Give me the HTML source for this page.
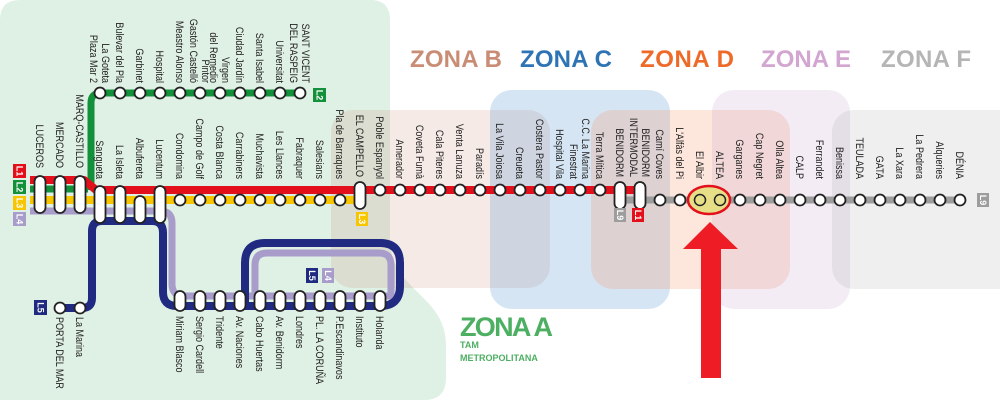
<!DOCTYPE html>
<html><head><meta charset="utf-8"><style>
html,body{margin:0;padding:0;background:#fff;}
svg{display:block;font-family:"Liberation Sans",sans-serif;}
.a{font-size:11px;fill:#222;text-anchor:end;}
.b{font-size:11px;fill:#222;text-anchor:start;}
.z{font-size:24px;font-weight:bold;}
.bd{font-size:9px;fill:#fff;font-weight:bold;text-anchor:middle;}
</style></head><body>
<svg width="1000" height="400" viewBox="0 0 1000 400" xmlns="http://www.w3.org/2000/svg">
<!-- zones -->
<path d="M0,20 Q0,0 20,0 H370 Q390,0 390,20 V240 C390,290 446,295 446,345 V378 Q446,400 424,400 H0 Z" fill="#dff0e4"/>
<rect x="331" y="110" width="219" height="178" rx="22" fill="rgb(200,140,110)" fill-opacity="0.18"/>
<rect x="490" y="90" width="180" height="219" rx="22" fill="rgb(90,150,210)" fill-opacity="0.25"/>
<rect x="591" y="110" width="199" height="179" rx="22" fill="rgb(245,140,90)" fill-opacity="0.22"/>
<rect x="712" y="90" width="138" height="219" rx="22" fill="rgb(190,150,200)" fill-opacity="0.18"/>
<rect x="832" y="110" width="190" height="179" rx="22" fill="rgb(150,150,150)" fill-opacity="0.15"/>
<text x="410" y="67" class="z" fill="#c98d75" textLength="92">ZONA B</text>
<text x="520" y="67" class="z" fill="#2e74b5" textLength="92">ZONA C</text>
<text x="640" y="67" class="z" fill="#ee6a28" textLength="94">ZONA D</text>
<text x="761" y="67" class="z" fill="#d2a6d0" textLength="90">ZONA E</text>
<text x="881" y="67" class="z" fill="#b5b5b5" textLength="90">ZONA F</text>
<text x="460" y="336" font-size="27" font-weight="bold" fill="#4daf62" textLength="93">ZONA A</text>
<text x="460" y="348" font-size="9" font-weight="bold" fill="#4daf62">TAM</text>
<text x="460" y="361" font-size="9" font-weight="bold" fill="#4daf62">METROPOLITANA</text>

<!-- lines -->
<g fill="none" stroke-linejoin="round">
<path d="M30,211 H160 Q172,211 172,223 V284 Q172,296 184,296 H391 V265 Q391,253 379,253 H267 Q255,253 255,265 V296" stroke="#a89ccb" stroke-width="7"/>
<path d="M100,221 H152 Q163,221 163,233 V292 Q163,306 177,306 H380 Q400,306 400,286 V263 Q400,243 380,243 H265 Q245,243 245,263 V306" stroke="#1f2a80" stroke-width="8"/>
<path d="M60,308 H82 Q92,308 92,298 V231 Q92,221 102,221 H110" stroke="#1f2a80" stroke-width="8"/>
<path d="M30,200 H360" stroke="#f7c600" stroke-width="8"/>
<path d="M30,189 H88 M91,190 V103 Q91,93 101,93 H300" stroke="#12913a" stroke-width="7"/>
<path d="M30,180 H84 L96,190 H640" stroke="#e3101c" stroke-width="8"/>
<path d="M620,200 H962" stroke="#9d9d9d" stroke-width="7"/>
</g>
<!-- highlight -->
<ellipse cx="709" cy="200" rx="21" ry="14" fill="#e6df88" stroke="#e3101c" stroke-width="2.5"/>

<!-- stations circles -->
<g fill="#fff" stroke="#222" stroke-width="1.8">
<circle cx="100" cy="93" r="5.5"/><circle cx="120" cy="93" r="5.5"/><circle cx="140" cy="93" r="5.5"/><circle cx="160" cy="93" r="5.5"/><circle cx="180" cy="93" r="5.5"/><circle cx="200" cy="93" r="5.5"/><circle cx="220" cy="93" r="5.5"/><circle cx="240" cy="93" r="5.5"/><circle cx="260" cy="93" r="5.5"/><circle cx="280" cy="93" r="5.5"/><circle cx="300" cy="93" r="5.5"/>
<circle cx="180" cy="200" r="5.5"/><circle cx="200" cy="200" r="5.5"/><circle cx="220" cy="200" r="5.5"/><circle cx="240" cy="200" r="5.5"/><circle cx="260" cy="200" r="5.5"/><circle cx="280" cy="200" r="5.5"/><circle cx="300" cy="200" r="5.5"/><circle cx="320" cy="200" r="5.5"/><circle cx="340" cy="200" r="5.5"/>
<circle cx="380" cy="190" r="5.5"/><circle cx="400" cy="190" r="5.5"/><circle cx="420" cy="190" r="5.5"/><circle cx="440" cy="190" r="5.5"/><circle cx="460" cy="190" r="5.5"/><circle cx="480" cy="190" r="5.5"/><circle cx="500" cy="190" r="5.5"/><circle cx="520" cy="190" r="5.5"/><circle cx="540" cy="190" r="5.5"/><circle cx="560" cy="190" r="5.5"/><circle cx="580" cy="190" r="5.5"/><circle cx="600" cy="190" r="5.5"/>
<circle cx="660" cy="200" r="5.5"/><circle cx="680" cy="200" r="5.5"/><circle cx="740" cy="200" r="5.5"/><circle cx="760" cy="200" r="5.5"/><circle cx="780" cy="200" r="5.5"/><circle cx="800" cy="200" r="5.5"/><circle cx="820" cy="200" r="5.5"/><circle cx="840" cy="200" r="5.5"/><circle cx="860" cy="200" r="5.5"/><circle cx="880" cy="200" r="5.5"/><circle cx="900" cy="200" r="5.5"/><circle cx="920" cy="200" r="5.5"/><circle cx="940" cy="200" r="5.5"/><circle cx="960" cy="200" r="5.5"/>
<circle cx="60" cy="308" r="5.5"/><circle cx="80" cy="308" r="5.5"/>
</g>
<g fill="#e6df88" stroke="#222" stroke-width="1.5"><circle cx="700" cy="200" r="5.5"/><circle cx="720" cy="200" r="5.5"/></g>
<!-- capsules -->
<g fill="#fff" stroke="#222" stroke-width="1.8">
<rect x="34.5" y="176" width="11" height="37" rx="5.5"/><rect x="54.5" y="176" width="11" height="37" rx="5.5"/><rect x="74.5" y="176" width="11" height="37" rx="5.5"/>
<rect x="94.5" y="186" width="11" height="37" rx="5.5"/><rect x="114.5" y="186" width="11" height="37" rx="5.5"/><rect x="134.5" y="196" width="11" height="27" rx="5.5"/><rect x="154.5" y="186" width="11" height="37" rx="5.5"/>
<rect x="354.5" y="182" width="11" height="27" rx="5.5"/><rect x="614.5" y="182" width="11" height="27" rx="5.5"/><rect x="634.5" y="182" width="11" height="27" rx="5.5"/>
<rect x="174.5" y="291" width="11" height="20" rx="5.5"/><rect x="194.5" y="291" width="11" height="20" rx="5.5"/><rect x="214.5" y="291" width="11" height="20" rx="5.5"/><rect x="234.5" y="291" width="11" height="20" rx="5.5"/><rect x="254.5" y="291" width="11" height="20" rx="5.5"/><rect x="274.5" y="291" width="11" height="20" rx="5.5"/><rect x="294.5" y="291" width="11" height="20" rx="5.5"/><rect x="314.5" y="291" width="11" height="20" rx="5.5"/><rect x="334.5" y="291" width="11" height="20" rx="5.5"/><rect x="354.5" y="291" width="11" height="20" rx="5.5"/><rect x="374.5" y="291" width="11" height="20" rx="5.5"/>
</g>
<!-- badges -->
<g>
<rect x="13" y="164" width="13" height="14" fill="#e3101c"/><rect x="13" y="180" width="13" height="14" fill="#12913a"/><rect x="13" y="196" width="13" height="14" fill="#f7c600"/><rect x="13" y="212" width="13" height="14" fill="#a89ccb"/>
<rect x="313" y="88" width="13" height="14" fill="#12913a"/>
<rect x="356" y="212" width="12" height="14" fill="#f7c600"/>
<rect x="614" y="208" width="12" height="14" fill="#9d9d9d"/><rect x="632" y="208" width="12" height="14" fill="#e3101c"/>
<rect x="977" y="193" width="12" height="14" fill="#9d9d9d"/>
<rect x="34" y="300" width="13" height="15" fill="#1f2a80"/>
<rect x="306" y="268" width="12" height="15" fill="#1f2a80"/><rect x="322" y="268" width="12" height="15" fill="#a89ccb"/>
</g>
<g class="bd">
<text transform="translate(19.5,171) rotate(90)" dy="3">L1</text><text transform="translate(19.5,187) rotate(90)" dy="3">L2</text><text transform="translate(19.5,203) rotate(90)" dy="3">L3</text><text transform="translate(19.5,219) rotate(90)" dy="3">L4</text>
<text transform="translate(319.5,95) rotate(90)" dy="3">L2</text><text transform="translate(362,219) rotate(90)" dy="3">L3</text>
<text transform="translate(620,215) rotate(90)" dy="3">L9</text><text transform="translate(638,215) rotate(90)" dy="3">L1</text>
<text transform="translate(983,200) rotate(90)" dy="3">L9</text><text transform="translate(40.5,307.5) rotate(90)" dy="3">L5</text>
<text transform="translate(312,275.5) rotate(90)" dy="3">L5</text><text transform="translate(328,275.5) rotate(90)" dy="3">L4</text>
</g>
<!-- arrow -->
<polygon points="710,222 738,249 721,249 721,378 701,378 701,249 683,249" fill="#ee1c24"/>

<!-- top labels -->
<g class="a">
<text transform="translate(100,83) rotate(90) scale(0.82,1)"><tspan x="0" dy="-0.2em">La Goteta</tspan><tspan x="0" dy="1.1em">Plaza Mar 2</tspan></text>
<text transform="translate(120,83) rotate(90) scale(0.82,1)" dy=".35em">Bulevar del Pla</text>
<text transform="translate(140,83) rotate(90) scale(0.82,1)" dy=".35em">Garbinet</text>
<text transform="translate(160,83) rotate(90) scale(0.82,1)" dy=".35em">Hospital</text>
<text transform="translate(180,83) rotate(90) scale(0.82,1)" dy=".35em">Meastro Alonso</text>
<text transform="translate(200,83) rotate(90) scale(0.82,1)"><tspan x="0" dy="-0.2em">Pintor</tspan><tspan x="0" dy="1.1em">Gastón Castelló</tspan></text>
<text transform="translate(220,83) rotate(90) scale(0.82,1)"><tspan x="0" dy="-0.2em">Virgen</tspan><tspan x="0" dy="1.1em">del Remedio</tspan></text>
<text transform="translate(240,83) rotate(90) scale(0.82,1)" dy=".35em">Ciudad Jardín</text>
<text transform="translate(260,83) rotate(90) scale(0.82,1)" dy=".35em">Santa Isabel</text>
<text transform="translate(280,83) rotate(90) scale(0.82,1)" dy=".35em">Universitat</text>
<text transform="translate(300,83) rotate(90) scale(0.82,1)"><tspan x="0" dy="-0.2em">SANT VICENT</tspan><tspan x="0" dy="1.1em">DEL RASPEIG</tspan></text>
<text transform="translate(40,168) rotate(90) scale(0.82,1)" dy=".35em">LUCEROS</text>
<text transform="translate(60,168) rotate(90) scale(0.82,1)" dy=".35em">MERCADO</text>
<text transform="translate(80,168) rotate(90) scale(0.82,1)" dy=".35em">MARQ-CASTILLO</text>
<text transform="translate(100,179) rotate(90) scale(0.82,1)" dy=".35em">Sangueta</text>
<text transform="translate(120,179) rotate(90) scale(0.82,1)" dy=".35em">La Isleta</text>
<text transform="translate(140,179) rotate(90) scale(0.82,1)" dy=".35em">Albufereta</text>
<text transform="translate(160,179) rotate(90) scale(0.82,1)" dy=".35em">Lucentum</text>
<text transform="translate(180,179) rotate(90) scale(0.82,1)" dy=".35em">Condomina</text>
<text transform="translate(200,179) rotate(90) scale(0.82,1)" dy=".35em">Campo de Golf</text>
<text transform="translate(220,179) rotate(90) scale(0.82,1)" dy=".35em">Costa Blanca</text>
<text transform="translate(240,179) rotate(90) scale(0.82,1)" dy=".35em">Carrabiners</text>
<text transform="translate(260,179) rotate(90) scale(0.82,1)" dy=".35em">Muchavista</text>
<text transform="translate(280,179) rotate(90) scale(0.82,1)" dy=".35em">Les Llances</text>
<text transform="translate(300,179) rotate(90) scale(0.82,1)" dy=".35em">Fabraquer</text>
<text transform="translate(320,179) rotate(90) scale(0.82,1)" dy=".35em">Salesians</text>
<text transform="translate(340,179) rotate(90) scale(0.82,1)" dy=".35em">Pla de Barraques</text>
<text transform="translate(360,177) rotate(90) scale(0.82,1)" dy=".35em">EL CAMPELLO</text>
<text transform="translate(380,179) rotate(90) scale(0.82,1)" dy=".35em">Poble Espanyol</text>
<text transform="translate(400,179) rotate(90) scale(0.82,1)" dy=".35em">Amerador</text>
<text transform="translate(420,179) rotate(90) scale(0.82,1)" dy=".35em">Coveta Fumà</text>
<text transform="translate(440,179) rotate(90) scale(0.82,1)" dy=".35em">Cala Piteres</text>
<text transform="translate(460,179) rotate(90) scale(0.82,1)" dy=".35em">Venta Lanuza</text>
<text transform="translate(480,179) rotate(90) scale(0.82,1)" dy=".35em">Paradís</text>
<text transform="translate(500,179) rotate(90) scale(0.82,1)" dy=".35em">La Vila Joiosa</text>
<text transform="translate(520,179) rotate(90) scale(0.82,1)" dy=".35em">Creueta</text>
<text transform="translate(540,179) rotate(90) scale(0.82,1)" dy=".35em">Costera Pastor</text>
<text transform="translate(560,179) rotate(90) scale(0.82,1)" dy=".35em">Hospital Vila</text>
<text transform="translate(580,179) rotate(90) scale(0.82,1)"><tspan x="0" dy="-0.2em">C.C. La Marina</tspan><tspan x="0" dy="1.1em">Finestrat</tspan></text>
<text transform="translate(600,179) rotate(90) scale(0.82,1)" dy=".35em">Terra Mítica</text>
<text transform="translate(620,177) rotate(90) scale(0.82,1)" dy=".35em">BENIDORM</text>
<text transform="translate(640,177) rotate(90) scale(0.82,1)"><tspan x="0" dy="-0.2em">BENIDORM</tspan><tspan x="0" dy="1.1em">INTERMODAL</tspan></text>
<text transform="translate(660,179) rotate(90) scale(0.82,1)" dy=".35em">Camí Coves</text>
<text transform="translate(680,179) rotate(90) scale(0.82,1)" dy=".35em">L'Alfàs del Pi</text>
<text transform="translate(700,179) rotate(90) scale(0.82,1)" dy=".35em">El Albir</text>
<text transform="translate(720,179) rotate(90) scale(0.82,1)" dy=".35em">ALTEA</text>
<text transform="translate(740,179) rotate(90) scale(0.82,1)" dy=".35em">Garganes</text>
<text transform="translate(760,179) rotate(90) scale(0.82,1)" dy=".35em">Cap Negret</text>
<text transform="translate(780,179) rotate(90) scale(0.82,1)" dy=".35em">Olla Altea</text>
<text transform="translate(800,179) rotate(90) scale(0.82,1)" dy=".35em">CALP</text>
<text transform="translate(820,179) rotate(90) scale(0.82,1)" dy=".35em">Ferrandet</text>
<text transform="translate(840,179) rotate(90) scale(0.82,1)" dy=".35em">Benissa</text>
<text transform="translate(860,179) rotate(90) scale(0.82,1)" dy=".35em">TEULADA</text>
<text transform="translate(880,179) rotate(90) scale(0.82,1)" dy=".35em">GATA</text>
<text transform="translate(900,179) rotate(90) scale(0.82,1)" dy=".35em">La Xara</text>
<text transform="translate(920,179) rotate(90) scale(0.82,1)" dy=".35em">La Pedrera</text>
<text transform="translate(940,179) rotate(90) scale(0.82,1)" dy=".35em">Alqueries</text>
<text transform="translate(960,179) rotate(90) scale(0.82,1)" dy=".35em">DÉNIA</text>
</g>
<!-- bottom labels -->
<g class="b">
<text transform="translate(60,317) rotate(90) scale(0.82,1)" dy=".35em">PORTA DEL MAR</text>
<text transform="translate(80,317) rotate(90) scale(0.82,1)" dy=".35em">La Marina</text>
<text transform="translate(180,316) rotate(90) scale(0.82,1)" dy=".35em">Miriam Blasco</text>
<text transform="translate(200,316) rotate(90) scale(0.82,1)" dy=".35em">Sergio Cardell</text>
<text transform="translate(220,316) rotate(90) scale(0.82,1)" dy=".35em">Tridente</text>
<text transform="translate(240,316) rotate(90) scale(0.82,1)" dy=".35em">Av. Naciones</text>
<text transform="translate(260,316) rotate(90) scale(0.82,1)" dy=".35em">Cabo Huertas</text>
<text transform="translate(280,316) rotate(90) scale(0.82,1)" dy=".35em">Av. Benidorm</text>
<text transform="translate(300,316) rotate(90) scale(0.82,1)" dy=".35em">Londres</text>
<text transform="translate(320,316) rotate(90) scale(0.82,1)" dy=".35em">PL. LA CORUÑA</text>
<text transform="translate(340,316) rotate(90) scale(0.82,1)" dy=".35em">P.Escandinavos</text>
<text transform="translate(360,316) rotate(90) scale(0.82,1)" dy=".35em">Instituto</text>
<text transform="translate(380,316) rotate(90) scale(0.82,1)" dy=".35em">Holanda</text>
</g>
</svg>
</body></html>
